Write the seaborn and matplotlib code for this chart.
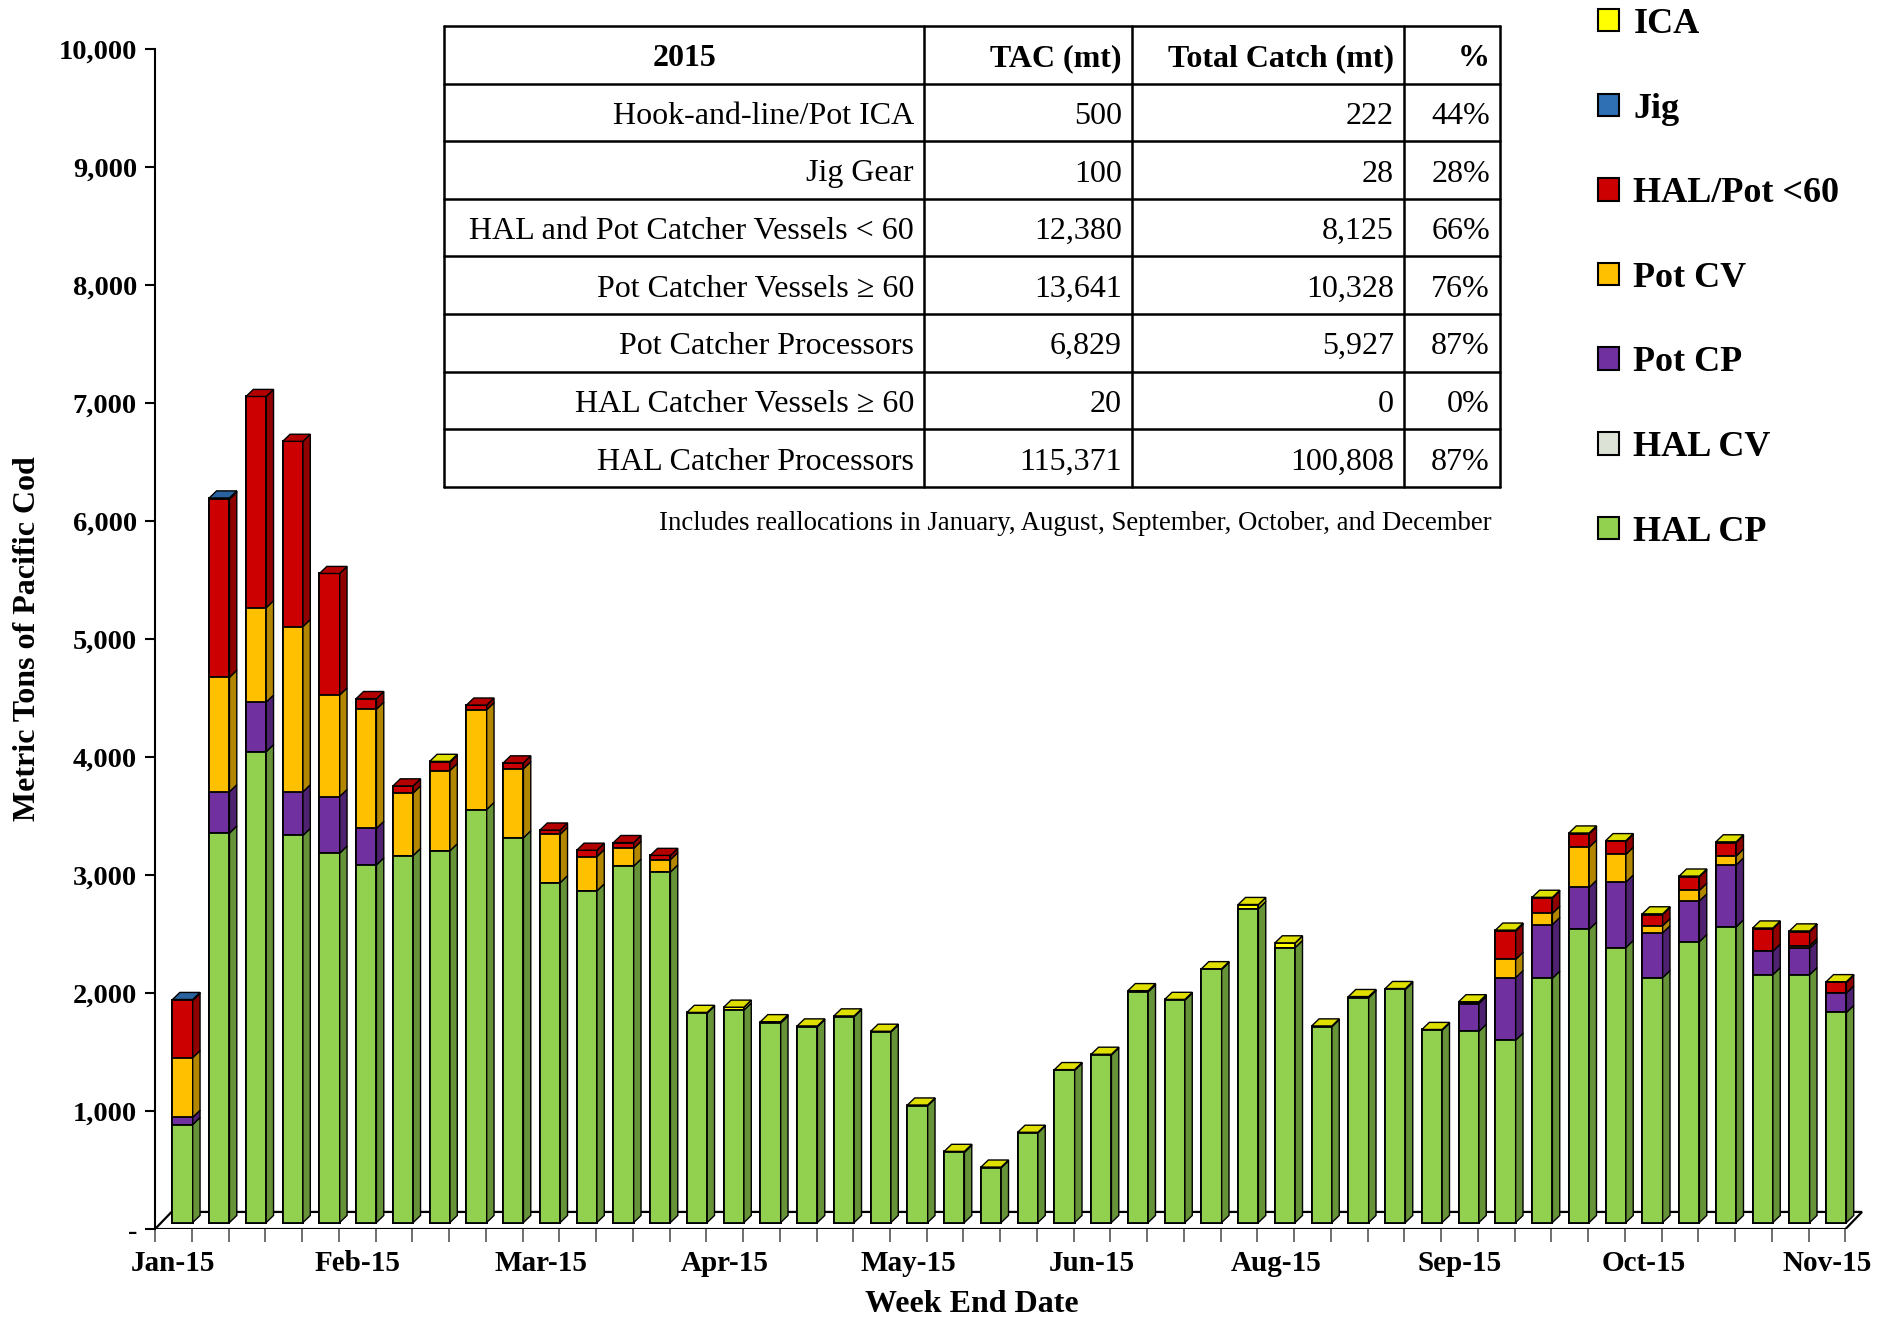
"""
plot.py — Captures hebdomadaires de morue du Pacifique 2015 (barres empilées pseudo-3D)
"""

import numpy as np
import pandas as pd
import matplotlib
matplotlib.use("Agg")
import matplotlib.pyplot as plt
from matplotlib.patches import Polygon, Patch, Rectangle
from matplotlib.colors import to_rgb
import seaborn as sns

# ─────────────────────────────────────────────
# Données
# ─────────────────────────────────────────────
weeks = pd.date_range("2015-01-03", periods=46, freq="7D")
month_idx = [0, 5, 10, 15, 20, 25, 30, 35, 40, 45]
month_labels = ["Jan-15", "Feb-15", "Mar-15", "Apr-15", "May-15",
                "Jun-15", "Aug-15", "Sep-15", "Oct-15", "Nov-15"]

hal_cp = [830, 3300, 3990, 3280, 3130, 3030, 3110, 3150, 3500, 3260,
          2880, 2810, 3020, 2970, 1775, 1800, 1690, 1660, 1745, 1615,
          990, 595, 465, 760, 1290, 1420, 1955, 1885, 2145, 2660,
          2330, 1660, 1905, 1975, 1630, 1620, 1545, 2070, 2485, 2330,
          2075, 2380, 2505, 2100, 2100, 1780]
hal_cv = [0, 0, 0, 0, 0, 0, 0, 0, 0, 0, 0, 0, 0, 0, 0, 0, 0, 0, 0, 0, 0, 0, 0,
          0, 0, 0, 0, 0, 0, 0, 0, 0, 0, 0, 0, 0, 0, 0, 0, 0, 0, 0, 0, 0, 0, 0]
pot_cp = [62, 350, 420, 370, 480, 310, 0, 0, 0, 0,
          0, 0, 0, 0, 0, 0, 0, 0, 0, 0,
          0, 0, 0, 0, 0, 0, 0, 0, 0, 0,
          0, 0, 0, 0, 0, 235, 530, 455, 355, 555,
          380, 345, 525, 200, 225, 165]
pot_cv = [505, 970, 800, 1400, 860, 1010, 530, 680, 845, 585,
          410, 290, 150, 105, 0, 0, 0, 0, 0, 0,
          0, 0, 0, 0, 0, 0, 0, 0, 0, 0,
          0, 0, 0, 0, 0, 0, 155, 95, 340, 235,
          60, 90, 75, 0, 20, 0]
hal_pot_lt60 = [485, 1510, 1790, 1570, 1030, 90, 60, 70, 40, 50,
                36, 55, 50, 36, 0, 0, 0, 0, 0, 0,
                0, 0, 0, 0, 0, 0, 0, 0, 0, 0,
                0, 0, 0, 0, 0, 10, 240, 130, 115, 110,
                95, 115, 115, 190, 120, 90]
jig = [8, 10, 0, 0, 0, 0, 0, 0, 0, 0, 0, 0, 0, 0, 0, 0, 0, 0, 0, 0, 0, 0, 0,
       0, 0, 0, 0, 0, 0, 0, 0, 0, 0, 0, 0, 0, 0, 0, 0, 0, 0, 0, 0, 0, 0, 0]
ica = [0, 0, 0, 0, 0, 0, 0, 8, 0, 0,
       0, 0, 0, 0, 6, 25, 12, 6, 6, 6,
       6, 8, 5, 5, 6, 6, 10, 6, 6, 35,
       40, 6, 10, 8, 6, 6, 8, 6, 6, 6,
       6, 6, 6, 6, 6, 6]

series_names = ["HAL CP", "HAL CV", "Pot CP", "Pot CV", "HAL/Pot <60", "Jig", "ICA"]
series_colors = ["#92D050", "#DCE3D6", "#7030A0", "#FFC000", "#CC0000", "#2F6FB3", "#FFFF00"]

tbl_header = ["2015", "TAC (mt)", "Total Catch (mt)", "%"]
tbl_sector = ["Hook-and-line/Pot ICA", "Jig Gear", "HAL and Pot Catcher Vessels < 60",
              "Pot Catcher Vessels \u2265 60", "Pot Catcher Processors",
              "HAL Catcher Vessels \u2265 60", "HAL Catcher Processors"]
tbl_tac = ["500", "100", "12,380", "13,641", "6,829", "20", "115,371"]
tbl_catch = ["222", "28", "8,125", "10,328", "5,927", "0", "100,808"]
tbl_pct = ["44%", "28%", "66%", "76%", "87%", "0%", "87%"]
note = "Includes reallocations in January, August, September, October, and December"

# ─────────────────────────────────────────────
# Style
# ─────────────────────────────────────────────
sns.set_style("white")
plt.rcParams["font.family"] = ["Liberation Serif", "DejaVu Serif"]
plt.rcParams.update({"text.color": "black", "axes.labelcolor": "black",
                     "xtick.color": "black", "ytick.color": "black"})

OFF = 55          # décalage entre le bord avant du plancher et la base des barres
BAR_W = 0.55
DX, DY = 0.2, 60  # profondeur 3D des barres


def shade(color, f):
    r, g, b = to_rgb(color)
    return (r * f, g * f, b * f)


fig = plt.figure(figsize=(18.86, 13.19), dpi=100)
ax = fig.add_axes([0.0822, 0.0682, 0.908, 0.8947])

series = [hal_cp, hal_cv, pot_cp, pot_cv, hal_pot_lt60, jig, ica]
cum = np.cumsum(np.array(series, dtype=float), axis=0)
x_cat = [d.strftime("%Y-%m-%d") for d in weeks]
n = len(x_cat)

# plancher
floor = Polygon([(-0.75, -OFF), (n - 0.75, -OFF), (n - 0.3, 90), (-0.3, 90)],
                closed=True, facecolor="white", edgecolor="black", lw=1.6, zorder=0.5)
ax.add_patch(floor)

# faces avant : cumul superposé, du haut vers le bas
for i in range(len(series) - 1, -1, -1):
    sns.barplot(x=x_cat, y=cum[i], color=series_colors[i], saturation=1,
                width=BAR_W, edgecolor="black", linewidth=1.3,
                errorbar=None, ax=ax, zorder=2)

# faces latérales et dessus
hw = BAR_W / 2
for k in range(n):
    prev = 0.0
    top_i = 0
    for i, vals in enumerate(series):
        v = vals[k]
        if v <= 0:
            continue
        y0, y1 = prev, prev + v
        ax.add_patch(Polygon([(k + hw, y0), (k + hw + DX, y0 + DY),
                              (k + hw + DX, y1 + DY), (k + hw, y1)],
                             closed=True, facecolor=shade(series_colors[i], 0.7),
                             edgecolor="black", lw=1.0, zorder=3))
        prev = y1
        top_i = i
    ax.add_patch(Polygon([(k - hw, prev), (k - hw + DX, prev + DY),
                          (k + hw + DX, prev + DY), (k + hw, prev)],
                         closed=True, facecolor=shade(series_colors[top_i], 0.88),
                         edgecolor="black", lw=1.0, zorder=3))

# axes
ax.set_xlim(-0.75, n - 0.15)
ax.set_ylim(-OFF, 10000 - OFF)
ax.set_xticks([k - 0.25 for k in month_idx], month_labels)
ax.set_xticks([k - 0.75 for k in range(n + 1)], minor=True)
ax.tick_params(axis="x", which="major", length=0, pad=15, labelsize=21)
ax.tick_params(axis="x", which="minor", length=9, width=1.2, color="#555555",
               direction="out", bottom=True)
yt = np.arange(0, 10001, 1000)
ax.set_yticks(yt - OFF, ["-"] + [f"{v:,}" for v in yt[1:]])
ax.tick_params(axis="y", length=7, width=1.5, direction="out", pad=6,
               labelsize=20.5, left=True, color="black")
for lab in ax.get_xticklabels() + ax.get_yticklabels():
    lab.set_fontweight("bold")

sns.despine(ax=ax, bottom=True)
ax.spines["left"].set_bounds(-OFF, 10000 - OFF)
ax.spines["left"].set_linewidth(1.5)
ax.spines["left"].set_color("black")

ax.set_ylabel("Metric Tons of Pacific Cod", fontsize=23, fontweight="bold")
ax.yaxis.set_label_coords(-0.066, 0.5)
ax.set_xlabel("Week End Date", fontsize=23, fontweight="bold")
ax.xaxis.set_label_coords(0.477, -0.052)

# ─────────────────────────────────────────────
# Tableau récapitulatif (coordonnées pixels)
# ─────────────────────────────────────────────
ov = fig.add_axes([0, 0, 1, 1], zorder=5)
ov.set_xlim(0, 1886)
ov.set_ylim(1319, 0)
ov.axis("off")
ov.patch.set_alpha(0)

cols = [444, 924, 1132, 1404, 1500]
row_h = 57.6
top = 26
n_rows = len(tbl_sector) + 1
ov.add_patch(Rectangle((cols[0], top), cols[-1] - cols[0], row_h * n_rows,
                       facecolor="white", edgecolor="none"))
for r in range(n_rows + 1):
    ov.plot([cols[0], cols[-1]], [top + r * row_h] * 2, color="black", lw=1.8)
for c in cols:
    ov.plot([c, c], [top, top + row_h * n_rows], color="black", lw=1.8)

yc = top + row_h / 2 + 4
ov.text((cols[0] + cols[1]) / 2, yc, tbl_header[0], ha="center", va="center",
        fontsize=23, fontweight="bold")
for j in range(1, 4):
    ov.text(cols[j + 1] - 10, yc, tbl_header[j], ha="right", va="center",
            fontsize=23, fontweight="bold")
for r, row in enumerate(zip(tbl_sector, tbl_tac, tbl_catch, tbl_pct)):
    yc = top + (r + 1.5) * row_h + 4
    for j, txt in enumerate(row):
        ov.text(cols[j + 1] - 10, yc, txt, ha="right", va="center", fontsize=23)
ov.text(1492, 523, note, ha="right", va="center", fontsize=19.3)

# ─────────────────────────────────────────────
# Légende
# ─────────────────────────────────────────────
handles = [Patch(facecolor=series_colors[i], edgecolor="black", lw=1.5)
           for i in range(len(series) - 1, -1, -1)]
labels = [series_names[i] for i in range(len(series) - 1, -1, -1)]
fig.legend(handles, labels, loc="upper left", bbox_to_anchor=(1598 / 1886, 0.994),
           frameon=False, prop={"family": ["Liberation Serif"], "weight": "bold", "size": 26},
           labelspacing=1.43, handlelength=0.58, handleheight=0.58, handletextpad=0.4,
           borderpad=0, borderaxespad=0, labelcolor="black")

plt.savefig("out.png", dpi=100)
plt.close()
